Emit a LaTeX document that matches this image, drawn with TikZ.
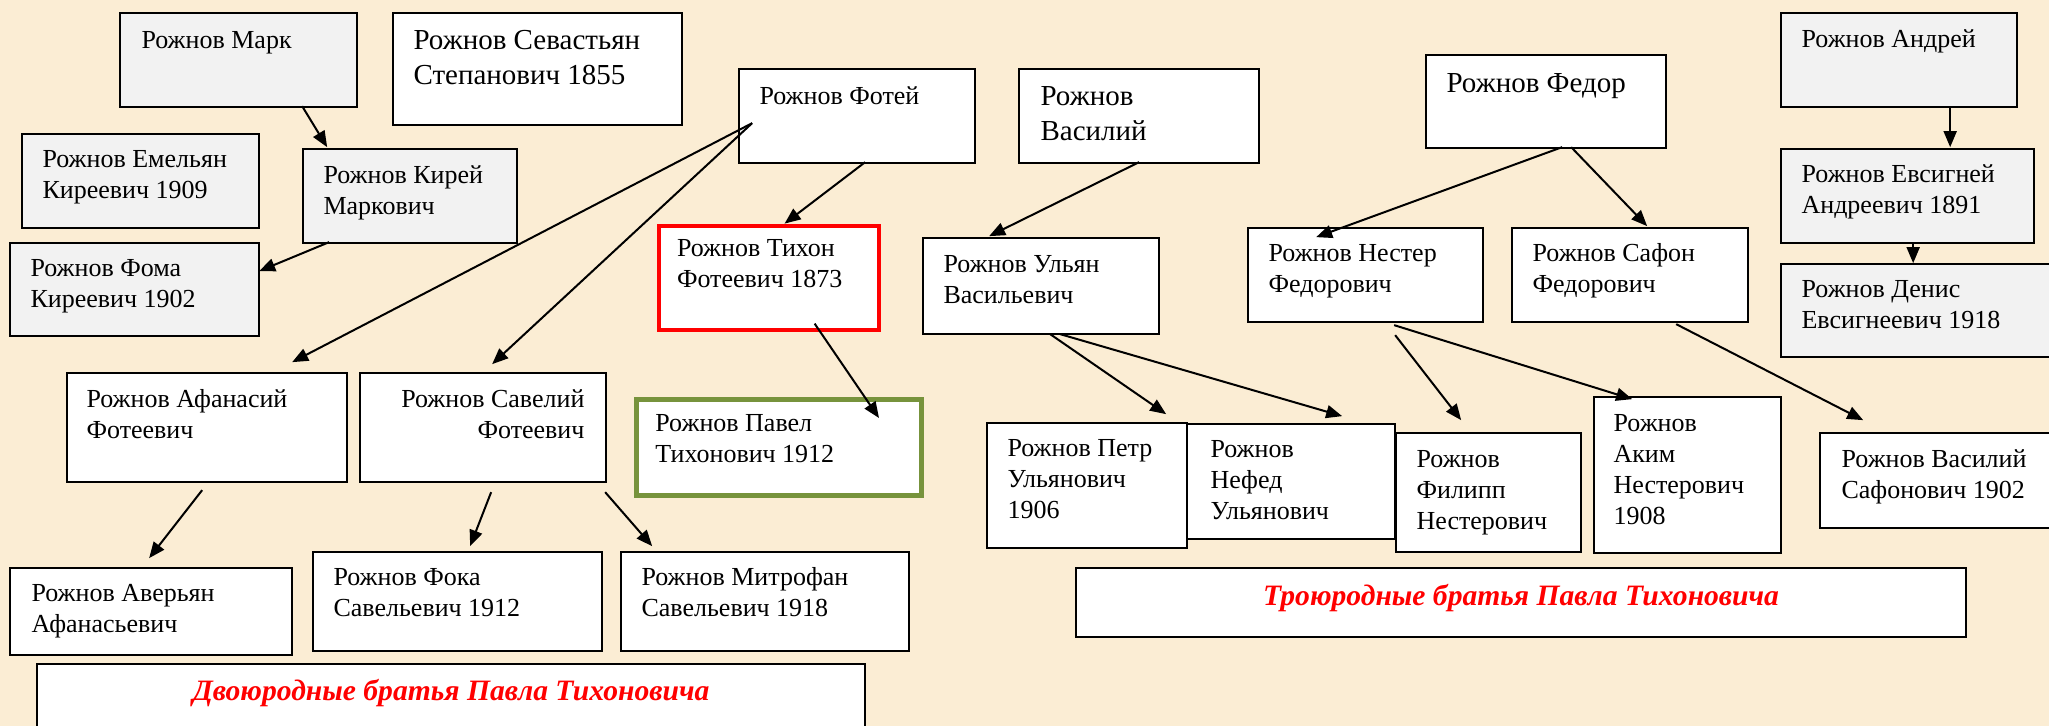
\documentclass[tikz,border=0pt]{standalone}
\usepackage{fontspec}
\setmainfont{Liberation Serif}
\usetikzlibrary{arrows.meta,fit}
\definecolor{bgcol}{RGB}{251,237,212}
\definecolor{boxgray}{RGB}{242,242,242}
\definecolor{olivegreen}{RGB}{119,147,60}
\newcommand{\famL}[1]{\begin{tabular}[t]{@{}l@{}}#1\end{tabular}}
\newcommand{\famR}[1]{\begin{tabular}[t]{@{}r@{}}#1\end{tabular}}
\begin{document}
\begin{tikzpicture}[x=0.5pt,y=-0.5pt,
  box/.style={draw=black, line width=0.85pt, fill=white, inner sep=0pt},
  gbox/.style={box, fill=boxgray},
  redbox/.style={box, draw=red, line width=2.4pt},
  greenbox/.style={box, draw=olivegreen, line width=2.5pt},
  txt/.style={inner sep=0pt, font=\fontsize{13}{15.5}\selectfont},
  bigtxt/.style={inner sep=0pt, font=\fontsize{14.5}{17.5}\selectfont},
  ttl/.style={inner sep=0pt, text=red, font=\fontsize{14.8}{17}\selectfont\bfseries\itshape},
  arr/.style={line width=1pt, -{Triangle[length=8pt,width=6.5pt]}}]
\useasboundingbox (0,0) rectangle (2049,726);
\clip (0,0) rectangle (2049,726);
\fill[bgcol] (0,0) rectangle (2049,726);

% boxes
\node[gbox, fit={(120,13) (357,107)}] (mark) {};
\node[box, fit={(393,13) (682,125)}] (sevast) {};
\node[gbox, fit={(22,134) (259,228)}] (emel) {};
\node[gbox, fit={(303,149) (517,243)}] (kirei) {};
\node[gbox, fit={(10,243) (259,336)}] (foma) {};
\node[box, fit={(739,69) (975,163)}] (fotei) {};
\node[box, fit={(1019,69) (1259,163)}] (vasil) {};
\node[redbox, fit={(659,226) (879,330)}] (tikhon) {};
\node[box, fit={(923,238) (1159,334)}] (ulyan) {};
\node[box, fit={(1426,55) (1666,148)}] (fedor) {};
\node[gbox, fit={(1781,13) (2017,107)}] (andrei) {};
\node[gbox, fit={(1781,149) (2034,243)}] (evsig) {};
\node[gbox, fit={(1781,264) (2080,357)}] (denis) {};
\node[box, fit={(1248,228) (1483,322)}] (nester) {};
\node[box, fit={(1512,228) (1748,322)}] (safon) {};
\node[box, fit={(67,373) (347,482)}] (afan) {};
\node[box, fit={(360,373) (606,482)}] (savel) {};
\node[greenbox, fit={(636.5,399.5) (921.5,495.5)}] (pavel) {};
\node[box, fit={(10,568) (292,655)}] (averyan) {};
\node[box, fit={(313,552) (602,651)}] (foka) {};
\node[box, fit={(621,552) (909,651)}] (mitrofan) {};
\node[box, fit={(987,423) (1187,548)}] (petr) {};
\node[box, fit={(1187,424) (1395,539)}] (nefed) {};
\node[box, fit={(1396,433) (1581,552)}] (filipp) {};
\node[box, fit={(1594,397) (1781,553)}] (akim) {};
\node[box, fit={(1820,433) (2080,528)}] (vassaf) {};
\node[box, fit={(37,664) (865,760)}] (dvoyu) {};
\node[box, fit={(1076,568) (1966,637)}] (troyu) {};

% texts
\node[txt, anchor=base west] (mark-t) at ([shift={(22,36)}]mark.north west) {\famL{Рожнов Марк}};
\node[bigtxt, anchor=base west] (sevast-t) at ([shift={(21,37)}]sevast.north west) {\famL{Рожнов Севастьян\\Степанович 1855}};
\node[txt, anchor=base west] (emel-t) at ([shift={(21,34)}]emel.north west) {\famL{Рожнов Емельян\\Киреевич 1909}};
\node[txt, anchor=base west] (kirei-t) at ([shift={(21,35)}]kirei.north west) {\famL{Рожнов Кирей\\Маркович}};
\node[txt, anchor=base west] (foma-t) at ([shift={(21,34)}]foma.north west) {\famL{Рожнов Фома\\Киреевич 1902}};
\node[txt, anchor=base west] (fotei-t) at ([shift={(21,36)}]fotei.north west) {\famL{Рожнов Фотей}};
\node[bigtxt, anchor=base west] (vasil-t) at ([shift={(22,37)}]vasil.north west) {\famL{Рожнов\\Василий}};
\node[txt, anchor=base west] (tikhon-t) at ([shift={(20,33)}]tikhon.north west) {\famL{Рожнов Тихон\\Фотеевич 1873}};
\node[txt, anchor=base west] (ulyan-t) at ([shift={(21,35)}]ulyan.north west) {\famL{Рожнов Ульян\\Васильевич}};
\node[bigtxt, anchor=base west] (fedor-t) at ([shift={(21,38)}]fedor.north west) {\famL{Рожнов Федор}};
\node[txt, anchor=base west] (andrei-t) at ([shift={(21,35)}]andrei.north west) {\famL{Рожнов Андрей}};
\node[txt, anchor=base west] (evsig-t) at ([shift={(21,34)}]evsig.north west) {\famL{Рожнов Евсигней\\Андреевич 1891}};
\node[txt, anchor=base west] (denis-t) at ([shift={(21,34)}]denis.north west) {\famL{Рожнов Денис\\Евсигнеевич 1918}};
\node[txt, anchor=base west] (nester-t) at ([shift={(21,34)}]nester.north west) {\famL{Рожнов Нестер\\Федорович}};
\node[txt, anchor=base west] (safon-t) at ([shift={(21,34)}]safon.north west) {\famL{Рожнов Сафон\\Федорович}};
\node[txt, anchor=base west] (afan-t) at ([shift={(20,35)}]afan.north west) {\famL{Рожнов Афанасий\\Фотеевич}};
\node[txt, anchor=base east] (savel-t) at ([shift={(-22,35)}]savel.north east) {\famR{Рожнов Савелий\\Фотеевич}};
\node[txt, anchor=base west] (pavel-t) at ([shift={(21,35)}]pavel.north west) {\famL{Рожнов Павел\\Тихонович 1912}};
\node[txt, anchor=base west] (averyan-t) at ([shift={(22,34)}]averyan.north west) {\famL{Рожнов Аверьян\\Афанасьевич}};
\node[txt, anchor=base west] (foka-t) at ([shift={(21,34)}]foka.north west) {\famL{Рожнов Фока\\Савельевич 1912}};
\node[txt, anchor=base west] (mitrofan-t) at ([shift={(21,34)}]mitrofan.north west) {\famL{Рожнов Митрофан\\Савельевич 1918}};
\node[txt, anchor=base west] (petr-t) at ([shift={(21,34)}]petr.north west) {\famL{Рожнов Петр\\Ульянович\\1906}};
\node[txt, anchor=base west] (nefed-t) at ([shift={(24,34)}]nefed.north west) {\famL{Рожнов\\Нефед\\Ульянович}};
\node[txt, anchor=base west] (filipp-t) at ([shift={(21,35)}]filipp.north west) {\famL{Рожнов\\Филипп\\Нестерович}};
\node[txt, anchor=base west] (akim-t) at ([shift={(20,35)}]akim.north west) {\famL{Рожнов\\Аким\\Нестерович\\1908}};
\node[txt, anchor=base west] (vassaf-t) at ([shift={(22,35)}]vassaf.north west) {\famL{Рожнов Василий\\Сафонович 1902}};
\node[ttl, anchor=base] (dvoyu-t) at (451,700) {Двоюродные братья Павла Тихоновича};
\node[ttl, anchor=base] (troyu-t) at (1521,605) {Троюродные братья Павла Тихоновича};

% connectors
\draw[arr] ([shift={(183,94)}]mark.north west) -- ([shift={(25,-1)}]kirei.north west);
\draw[arr] ([shift={(27,94)}]kirei.north west) -- ([shift={(250,29)}]foma.north west);
\draw[arr] ([shift={(14,55)}]fotei.north west) -- ([shift={(226,-10)}]afan.north west);
\draw[arr] ([shift={(14,55)}]fotei.north west) -- ([shift={(133,-8)}]savel.north west);
\draw[arr] ([shift={(127,94)}]fotei.north west) -- ([shift={(128,0)}]tikhon.north west);
\draw[arr] ([shift={(158,100)}]tikhon.north west) -- ([shift={(245,21)}]pavel.north west);
\draw[arr] ([shift={(121,94)}]vasil.north west) -- ([shift={(67,-1)}]ulyan.north west);
\draw[arr] ([shift={(136,118)}]afan.north west) -- ([shift={(140,-9)}]averyan.north west);
\draw[arr] ([shift={(132,120)}]savel.north west) -- ([shift={(158,-5)}]foka.north west);
\draw[arr] ([shift={(246,120)}]savel.north west) -- ([shift={(32,-5)}]mitrofan.north west);
\draw[arr] ([shift={(128,97)}]ulyan.north west) -- ([shift={(180,-8)}]petr.north west);
\draw[arr] ([shift={(138,97)}]ulyan.north west) -- ([shift={(156,-7)}]nefed.north west);
\draw[arr] ([shift={(137,93)}]fedor.north west) -- ([shift={(69,10)}]nester.north west);
\draw[arr] ([shift={(146,93)}]fedor.north west) -- ([shift={(136,-1)}]safon.north west);
\draw[arr] ([shift={(148,108)}]nester.north west) -- ([shift={(66,-12)}]filipp.north west);
\draw[arr] ([shift={(147,98)}]nester.north west) -- ([shift={(39,3)}]akim.north west);
\draw[arr] ([shift={(165,97)}]safon.north west) -- ([shift={(44,-12)}]vassaf.north west);
\draw[arr] ([shift={(170,94)}]andrei.north west) -- ([shift={(170,-1)}]evsig.north west);
\draw[arr] ([shift={(133,94)}]evsig.north west) -- ([shift={(133,0)}]denis.north west);
\end{tikzpicture}
\end{document}
